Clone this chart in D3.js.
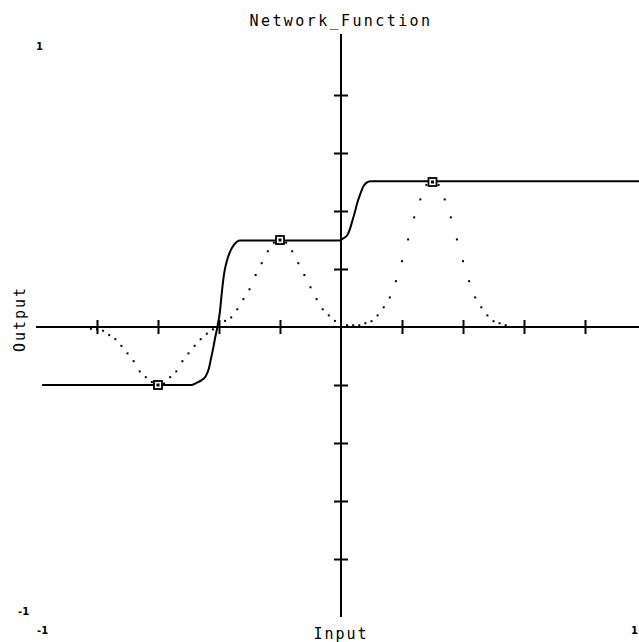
<!DOCTYPE html>
<html>
<head>
<meta charset="utf-8">
<script src="https://cdn.jsdelivr.net/npm/d3@7"></script>
<style>
  body { margin: 0; background: #fff; }
  svg { display: block; }
  .lbl { font-family: "DejaVu Sans Mono", monospace; fill: #000; }
  .small { font-family: "DejaVu Sans", sans-serif; font-weight: bold; font-size: 10px; fill: #000; }
</style>
</head>
<body>
<div id="chart"></div>
<script>
// chart values
const xTicks = [-0.8, -0.6, -0.4, -0.2, 0.2, 0.4, 0.6, 0.8];
const yTicks = [-0.8, -0.6, -0.4, -0.2, 0.2, 0.4, 0.6, 0.8];

// network output (solid)
const netX = [-0.98, -0.49, -0.472, -0.457, -0.444, -0.433, -0.426, -0.419, -0.413, -0.404,
  -0.397, -0.391, -0.384, -0.375, -0.364, -0.351, -0.331, -0.005, 0.008, 0.021,
  0.030, 0.038, 0.046, 0.053, 0.062, 0.073, 0.084, 0.097, 1.0];
const netY = [-0.200, -0.200, -0.192, -0.183, -0.171, -0.142, -0.108, -0.073, -0.039, 0.007,
  0.053, 0.116, 0.179, 0.225, 0.259, 0.283, 0.298, 0.298, 0.306, 0.317,
  0.340, 0.369, 0.398, 0.427, 0.455, 0.484, 0.498, 0.503, 0.503];

// unit responses (dotted)
const dotX = [-0.82, -0.80, -0.78, -0.76, -0.74, -0.72, -0.70, -0.68, -0.66, -0.64,
  -0.62, -0.60, -0.58, -0.56, -0.54, -0.52, -0.50, -0.48, -0.46, -0.44,
  -0.42, -0.40, -0.38, -0.36, -0.34, -0.32, -0.30, -0.28, -0.26, -0.24,
  -0.22, -0.20, -0.18, -0.16, -0.14, -0.12, -0.10, -0.08, -0.06, -0.04,
  -0.02, 0.00, 0.02, 0.04, 0.06, 0.08, 0.10, 0.12, 0.14, 0.16,
  0.18, 0.20, 0.22, 0.24, 0.26, 0.28, 0.30, 0.32, 0.34, 0.36,
  0.38, 0.40, 0.42, 0.44, 0.46, 0.48, 0.50, 0.52, 0.54];
const dotY = [-0.006, -0.008, -0.013, -0.028, -0.042, -0.065, -0.091, -0.118, -0.153, -0.173,
  -0.190, -0.200, -0.195, -0.173, -0.153, -0.118, -0.091, -0.065, -0.042, -0.023,
  -0.008, 0.000, 0.021, 0.033, 0.061, 0.096, 0.130, 0.179, 0.220, 0.261,
  0.291, 0.300, 0.291, 0.261, 0.220, 0.179, 0.137, 0.096, 0.061, 0.040,
  0.021, 0.000, 0.006, 0.006, 0.006, 0.013, 0.020, 0.040, 0.068, 0.102,
  0.158, 0.227, 0.302, 0.378, 0.440, 0.490, 0.500, 0.490, 0.440, 0.378,
  0.302, 0.227, 0.158, 0.102, 0.068, 0.040, 0.020, 0.013, 0.006];

// centres marked with squares
const markX = [-0.6, -0.2, 0.3];
const markY = [-0.2, 0.3, 0.5];

let w = 639;
let h = 642;

let x = d3.scaleLinear().domain([-1, 1]).range([36, 646]);
let y = d3.scaleLinear().domain([-1, 1]).range([617, 37]);

let svg = d3.select('#chart').append('svg')
  .attr('width', w)
  .attr('height', h);

// axes through the origin
let xAxis = svg.append('g')
  .attr('transform', `translate(0,${y(0)})`)
  .call(d3.axisBottom(x).tickValues(xTicks).tickSize(14).tickFormat(''));
xAxis.select('.domain').remove();
xAxis.selectAll('.tick line').attr('y1', -7).attr('y2', 7).attr('stroke-width', 2);

let yAxis = svg.append('g')
  .attr('transform', `translate(${x(0)},0)`)
  .call(d3.axisLeft(y).tickValues(yTicks).tickSize(14).tickFormat(''));
yAxis.select('.domain').remove();
yAxis.selectAll('.tick line').attr('x1', -7).attr('x2', 7).attr('stroke-width', 2);

svg.append('line')
  .attr('x1', x(-1)).attr('x2', w)
  .attr('y1', y(0)).attr('y2', y(0))
  .attr('stroke', '#000').attr('stroke-width', 2);

svg.append('line')
  .attr('x1', x(0)).attr('x2', x(0))
  .attr('y1', y(1) - 3).attr('y2', y(-1))
  .attr('stroke', '#000').attr('stroke-width', 2);

// dotted unit responses
svg.selectAll('.dot')
  .data(dotX)
  .enter().append('rect')
  .attr('class', 'dot')
  .attr('x', (d, i) => x(d) - 1)
  .attr('y', (d, i) => y(dotY[i]) - 1)
  .attr('width', 2)
  .attr('height', 2)
  .attr('fill', '#000');

// network output
let line = d3.line()
  .x((d, i) => x(d))
  .y((d, i) => y(netY[i]))
  .curve(d3.curveMonotoneX);

svg.append('path')
  .attr('d', line(netX))
  .attr('fill', 'none')
  .attr('stroke', '#000')
  .attr('stroke-width', 2);

// markers
let marks = svg.selectAll('.mark')
  .data(markX)
  .enter().append('g')
  .attr('class', 'mark')
  .attr('transform', (d, i) => `translate(${x(d)},${y(markY[i])})`);

marks.append('rect')
  .attr('x', -4).attr('y', -4)
  .attr('width', 8).attr('height', 8)
  .attr('fill', '#fff')
  .attr('stroke', '#000')
  .attr('stroke-width', 1.8);

marks.append('rect')
  .attr('x', -1.5).attr('y', -1.5)
  .attr('width', 3).attr('height', 3)
  .attr('fill', '#000');

// labels
svg.append('text')
  .attr('class', 'lbl')
  .attr('x', 341).attr('y', 26)
  .attr('text-anchor', 'middle')
  .style('font-size', '15px')
  .style('letter-spacing', '2.4px')
  .text('Network_Function');

svg.append('text')
  .attr('class', 'lbl')
  .attr('x', 341).attr('y', 639)
  .attr('text-anchor', 'middle')
  .style('font-size', '15px')
  .style('letter-spacing', '2px')
  .text('Input');

svg.append('text')
  .attr('class', 'lbl')
  .attr('transform', `translate(25,${y(0) - 8}) rotate(-90)`)
  .attr('text-anchor', 'middle')
  .style('font-size', '15px')
  .style('letter-spacing', '2px')
  .text('Output');

svg.append('text').attr('class', 'small').attr('x', 36).attr('y', 50).text('1');
svg.append('text').attr('class', 'small').attr('x', 18).attr('y', 615).text('-1');
svg.append('text').attr('class', 'small').attr('x', 37).attr('y', 634).text('-1');
svg.append('text').attr('class', 'small').attr('x', 631).attr('y', 634).text('1');
</script>
</body>
</html>
